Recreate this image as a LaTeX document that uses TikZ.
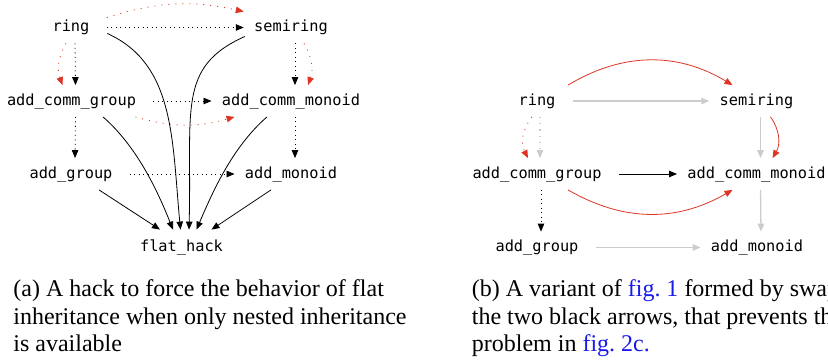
\documentclass[tikz,border=0pt]{standalone}
\usepackage{fontspec}
\setmainfont{Liberation Serif}
\newfontfamily\codefont{DejaVu Sans Mono}
\usetikzlibrary{arrows.meta}

\definecolor{hackred}{RGB}{222,52,36}
\definecolor{faintgray}{RGB}{204,204,204}
\definecolor{linkblue}{RGB}{25,25,235}

\tikzset{
  cls/.style={font=\codefont\fontsize{15.3}{18}\selectfont, text height=11.5pt,
    text depth=3.5pt, inner xsep=10pt, inner ysep=8pt},
  tip/.style={-{Triangle[length=8pt,width=6.5pt]}},
  hedge/.style={shorten <=7pt},
  dots/.style={dash pattern=on 0.9pt off 3.6pt},
  reddots/.style={hackred, dash pattern=on 1pt off 6pt},
  redline/.style={hackred},
  faint/.style={faintgray, line width=1.3pt},
  faintdots/.style={faintgray, line width=1.2pt, dash pattern=on 1.2pt off 5pt},
  caption/.style={font=\fontsize{24}{27.5}\selectfont, align=left, inner sep=0pt}
}

\begin{document}
\begin{tikzpicture}[x=1pt, y=1pt, line width=0.8pt]
  \useasboundingbox (0,0) rectangle (828,-364);
  \clip (0,0) rectangle (828,-364);

  % (a) flat hack
  \node[cls] (ring) at (71,-27.5) {ring};
  \node[cls] (semiring) at (291,-27.5) {semiring};
  \node[cls] (acg) at (71.5,-101) {add\_comm\_group};
  \node[cls] (acm) at (291,-101) {add\_comm\_monoid};
  \node[cls] (ag) at (71,-174) {add\_group};
  \node[cls] (am) at (291,-174) {add\_monoid};
  \node[cls] (flat) at (181.5,-247.5) {flat\_hack};

  % nested parents
  \draw[tip, dots, hedge] (ring.east) -- (semiring.west);
  \draw[tip, reddots] ([shift={(7,-6)}]ring.north east) to[bend left=15] (semiring.north west);
  \draw[tip, dots] ([xshift=4]ring.south) -- ([xshift=4]acg.north);
  \draw[tip, reddots] ([xshift=-5]ring.south) to[bend right=25] ([xshift=-9]acg.north);
  \draw[tip, dots] ([xshift=4]semiring.south) -- ([xshift=4]acm.north);
  \draw[tip, reddots] ([xshift=13]semiring.south) to[bend left=25] ([xshift=17]acm.north);
  \draw[tip, dots, hedge] (acg.east) -- (acm.west);
  \draw[tip, reddots] ([xshift=-11]acg.south east) to[bend right=16] ([xshift=23]acm.south west);
  \draw[tip, dots] ([xshift=4]acg.south) -- ([xshift=4]ag.north);
  \draw[tip, dots] ([xshift=4]acm.south) -- ([xshift=4]am.north);
  \draw[tip, dots, hedge] (ag.east) -- (am.west);

  % everything straight into flat_hack
  \draw[tip] ([shift={(7.5,-6)}]ring.east) .. controls (175,-64) and (172,-140) .. ([shift={(-1,2)}]flat.north);
  \draw[tip] ([shift={(1,-9)}]semiring.west) .. controls (177,-67) and (192,-109) .. ([shift={(7.5,2)}]flat.north);
  \draw[tip] ([xshift=31.5]acg.south) .. controls (137.5,-147) and (158,-192) .. ([shift={(-8.5,2)}]flat.north);
  \draw[tip] ([xshift=-24]acm.south) .. controls (232.5,-147) and (213,-191) .. ([shift={(15,2)}]flat.north);
  \draw[tip] ([xshift=28]ag.south) -- ([shift={(-21.5,2)}]flat.north);
  \draw[tip] ([xshift=-20]am.south) -- ([shift={(30,2)}]flat.north);

  % (b) swapped variant
  \node[cls] (ring2) at (537,-101) {ring};
  \node[cls] (semiring2) at (756.5,-101) {semiring};
  \node[cls] (acg2) at (537,-174) {add\_comm\_group};
  \node[cls] (acm2) at (756.5,-174) {add\_comm\_monoid};
  \node[cls] (ag2) at (537,-247.5) {add\_group};
  \node[cls] (am2) at (757,-247.5) {add\_monoid};

  \draw[tip, faint, hedge] (ring2.east) -- (semiring2.west);
  \draw[tip, redline] ([xshift=31]ring2.north) to[bend left=31] ([xshift=-24]semiring2.north);
  \draw[tip, faintdots] ([xshift=3]ring2.south) -- ([xshift=3]acg2.north);
  \draw[tip, reddots] ([xshift=-5]ring2.south) to[bend right=33] ([xshift=-9]acg2.north);
  \draw[tip, faint] ([xshift=4]semiring2.south) -- ([xshift=4]acm2.north);
  \draw[tip, redline] ([xshift=14]semiring2.south) to[bend left=33] ([xshift=16]acm2.north);
  \draw[tip, hedge] (acg2.east) -- (acm2.west);
  \draw[tip, redline] ([xshift=31]acg2.south) to[bend right=30] ([xshift=-24]acm2.south);
  \draw[tip, dots] ([xshift=4]acg2.south) -- ([xshift=4]ag2.north);
  \draw[tip, faint] ([xshift=4]acm2.south) -- ([xshift=4]am2.north);
  \draw[tip, faint, hedge] (ag2.east) -- (am2.west);

  % captions (base = last line)
  \node[caption, anchor=base west] (capa) at (13,-351.7)
    {(a) A hack to force the behavior of flat\\inheritance when only nested inheritance\\is available};
  \node[caption, anchor=base west] (capb) at (471.5,-351.7)
    {(b) A variant of \textcolor{linkblue}{fig.~1} formed by swapping\\the two black arrows, that prevents the\\problem in \textcolor{linkblue}{fig.~2c.}};
\end{tikzpicture}
\end{document}
